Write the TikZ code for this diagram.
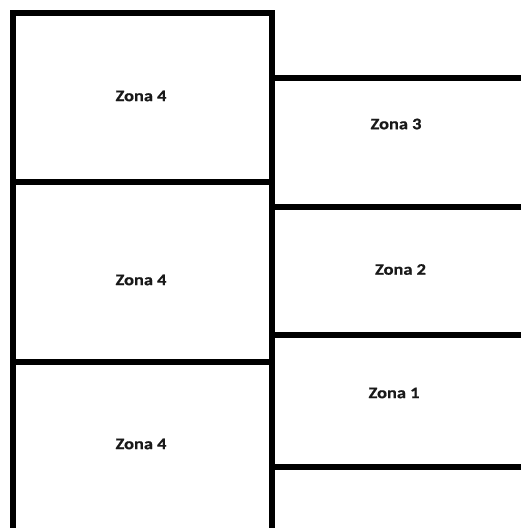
\documentclass[tikz,border=0pt]{standalone}
\usepackage{fontspec}
\setmainfont{Carlito}
\newfontfamily\zfont[FakeStretch=1.15,FakeBold=0.8]{Carlito}
\begin{document}
\begin{tikzpicture}[x=1pt,y=-1pt,
  wall/.style={line width=6pt, line join=miter, draw=black},
  zlabel/.style={font=\zfont\bfseries\fontsize{16}{18}\selectfont, text=black!90}]
\useasboundingbox[fill=white] (0,0) rectangle (520,528);
% left column
\draw[wall] (13,540) -- (13,13) -- (272,13) -- (272,540);
\draw[wall] (13,182) -- (272,182);
\draw[wall] (13,362) -- (272,362);
% right column
\draw[wall] (272,78) -- (530,78);
\draw[wall] (272,207) -- (530,207);
\draw[wall] (272,335) -- (530,335);
\draw[wall] (272,467) -- (530,467);
% labels
\node[zlabel] (z4a) at (141,96) {Zona 4};
\node[zlabel] (z4b) at (141,280) {Zona 4};
\node[zlabel] (z4c) at (141,444) {Zona 4};
\node[zlabel] (z3) at (396,124) {Zona 3};
\node[zlabel] (z2) at (400.5,269.5) {Zona 2};
\node[zlabel] (z1) at (394,393) {Zona 1};
\end{tikzpicture}
\end{document}
